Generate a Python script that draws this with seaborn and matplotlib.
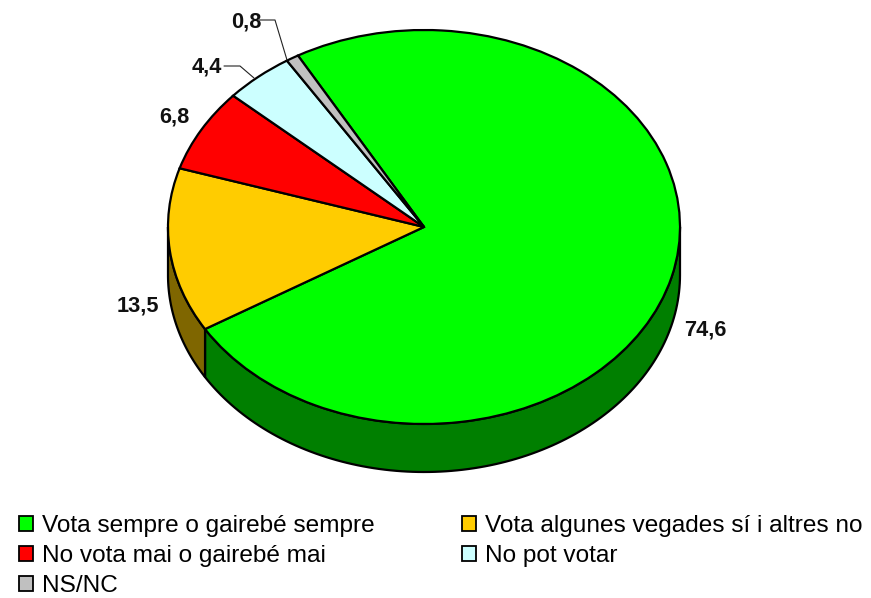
import numpy as np
import matplotlib
matplotlib.use("Agg")
import matplotlib.pyplot as plt
from matplotlib.patches import Patch
import seaborn as sns

categories = ["Vota sempre o gairebé sempre", "Vota algunes vegades sí i altres no",
              "No vota mai o gairebé mai", "No pot votar", "NS/NC"]
values = [74.6, 13.5, 6.8, 4.4, 0.8]
value_labels = ["74,6", "13,5", "6,8", "4,4", "0,8"]
top_colors = ["#00FF00", "#FFCC00", "#FF0000", "#CCFFFF", "#C0C0C0"]
side_colors = ["#007F00", "#7F6600", "#7F0000", "#667F7F", "#606060"]

W, H = 871, 598
CX, CY, RX, RY, DEPTH = 424, 227, 256, 197, 48
START = 119.5

sns.set_theme(style="white")
plt.rcParams["font.family"] = ["Liberation Sans", "DejaVu Sans"]
palette = sns.color_palette(top_colors)

fig = plt.figure(figsize=(W / 100, H / 100), dpi=100, facecolor="white")
ax = fig.add_axes([0, 0, 1, 1])
LW = 1.6


def px(x, y):
    return (x - CX) / RX, (CY - y) / RY


# side wall: the part of every slice that faces the viewer
shares = np.array(values) / np.sum(values) * 360
ends = START - np.cumsum(shares)
starts = ends + shares
d = DEPTH / RY
for a0, a1, col in zip(starts, ends, side_colors):
    for k in (0, -360):
        hi = min(a0 + k, 0)
        lo = max(a1 + k, -180)
        if hi <= lo:
            continue
        t = np.radians(np.linspace(hi, lo, 120))
        xs = np.cos(t)
        ys = np.sin(t)
        ax.fill(np.r_[xs, xs[::-1]], np.r_[ys, ys[::-1] - d],
                facecolor=col, edgecolor="black", linewidth=LW, zorder=1)

wedges, _ = ax.pie(values, colors=palette, startangle=START, counterclock=False,
                   radius=1, center=(0, 0),
                   wedgeprops=dict(edgecolor="black", linewidth=LW, zorder=2))
ax.set_aspect("auto")
ax.set_xlim(px(0, 0)[0], px(W, 0)[0])
ax.set_ylim(px(0, H)[1], px(0, 0)[1])
ax.set_frame_on(False)

label_pos = [(705, 330), (138, 306), (174, 117), (207, 67), (246, 22)]
for txt, (x, y) in zip(value_labels, label_pos):
    ax.text(*px(x, y), txt, ha="center", va="center", fontsize=15.7,
            fontweight="bold", color="#111111", zorder=5)

for path in ([(259, 20), (275, 20), (287, 60)], [(224, 66), (240, 66), (254, 78)]):
    pts = np.array([px(*p) for p in path])
    ax.plot(pts[:, 0], pts[:, 1], color="#222222", lw=0.8, zorder=4)

order = [0, 2, 4, 1, 3]
handles = [Patch(facecolor=palette[i], edgecolor="black", linewidth=1.3, label=categories[i])
           for i in order]
fig.legend(handles=handles, ncol=2, loc="upper left", bbox_to_anchor=(19 / W, 1 - 515 / H),
           bbox_transform=fig.transFigure, frameon=False, fontsize=17.6, labelcolor="black",
           handlelength=0.567, handleheight=0.567, handletextpad=0.364,
           columnspacing=3.6, labelspacing=0.33, borderpad=0, borderaxespad=0)

fig.savefig("out.png", dpi=100)
